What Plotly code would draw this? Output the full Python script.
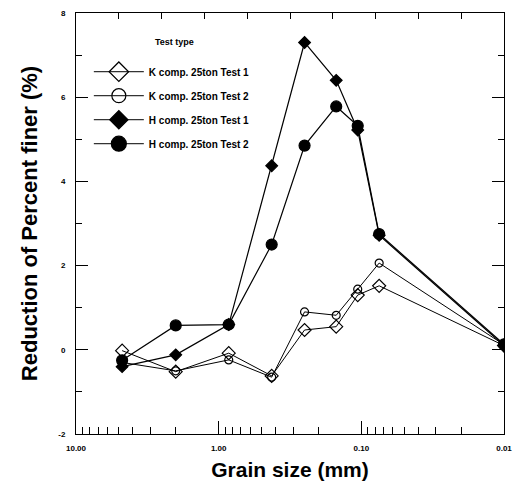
import plotly.graph_objects as go

# Data (grain size in mm, reduction of percent finer in %)
grain_size = [4.75, 2.0, 0.85, 0.425, 0.25, 0.15, 0.106, 0.075, 0.01]
k_test1 = [-0.02, -0.52, -0.08, -0.62, 0.47, 0.55, 1.30, 1.52, 0.10]
k_test2 = [-0.30, -0.50, -0.24, -0.65, 0.90, 0.82, 1.44, 2.06, 0.12]
h_test1 = [-0.40, -0.12, 0.60, 4.37, 7.30, 6.40, 5.22, 2.72, 0.10]
h_test2 = [-0.25, 0.58, 0.60, 2.50, 4.85, 5.78, 5.32, 2.75, 0.13]

names = ["K comp. 25ton Test 1", "K comp. 25ton Test 2",
         "H comp. 25ton Test 1", "H comp. 25ton Test 2"]
series = [k_test1, k_test2, h_test1, h_test2]
x_ticks = [10, 1, 0.1, 0.01]
x_ticktext = ["10.00", "1.00", "0.10", "0.01"]
y_ticks = [-2, 0, 2, 4, 6, 8]
y_ticktext = ["-2", "0", "2", "4", "6", "8"]

styles = [
    dict(symbol="diamond-open", size=10, lw=1.0),
    dict(symbol="circle-open", size=8, lw=1.0),
    dict(symbol="diamond", size=9, lw=1.2),
    dict(symbol="circle", size=11, lw=1.2),
]
legend_sizes = [15, 14, 14, 15]

minor_vals = [m * d for d in (1, 0.1, 0.01) for m in range(2, 10)]

fig = go.Figure()
for name, ys, st in zip(names, series, styles):
    fig.add_trace(go.Scatter(
        x=grain_size, y=ys, mode="lines+markers", showlegend=False,
        line=dict(color="black", width=st["lw"]),
        marker=dict(symbol=st["symbol"], size=st["size"], color="black",
                    line=dict(color="black", width=1.2)),
    ))
for i, (name, st) in enumerate(zip(names, styles)):
    fig.add_trace(go.Scatter(
        x=[None], y=[None], mode="lines+markers", name=name,
        legendgroup="g%d" % i,
        line=dict(color="black", width=1),
        marker=dict(symbol=st["symbol"], size=legend_sizes[i], color="black",
                    line=dict(color="black", width=1.2)),
    ))
# invisible trace for the top axis
fig.add_trace(go.Scatter(x=[None], y=[None], xaxis="x2", showlegend=False,
                         hoverinfo="skip"))

bold = dict(family="Liberation Sans", color="black", weight="bold")

fig.update_layout(
    width=521, height=486,
    margin=dict(l=76, r=15, t=9, b=52),
    plot_bgcolor="white", paper_bgcolor="white",
    font=dict(family="Liberation Sans", color="black"),
    xaxis=dict(
        type="log", range=[1, -2],
        tickvals=x_ticks, ticktext=x_ticktext,
        ticks="inside", ticklen=13, tickwidth=1, tickcolor="black",
        tickfont=dict(size=8, **bold), ticklabelstandoff=6,
        showline=True, linecolor="black", linewidth=1,
        showgrid=False, zeroline=False,
        minor=dict(tickvals=minor_vals, ticks="inside", ticklen=7,
                   tickcolor="black", showgrid=False),
        title=dict(text="Grain size (mm)", font=dict(size=21, **bold),
                   standoff=10),
    ),
    xaxis2=dict(
        overlaying="x", side="top", range=[0, 10], dtick=1,
        ticks="inside", ticklen=6, tickcolor="black",
        showticklabels=False, showline=True, linecolor="black",
        showgrid=False, zeroline=False,
    ),
    yaxis=dict(
        range=[-2, 8], tickvals=y_ticks, ticktext=y_ticktext,
        ticks="inside", ticklen=12, tickcolor="black",
        tickfont=dict(size=8, **bold), ticklabelstandoff=8,
        showline=True, linecolor="black", linewidth=1, mirror="ticks",
        showgrid=False, zeroline=False,
        minor=dict(dtick=1, tick0=0, ticks="inside", ticklen=6,
                   tickcolor="black", showgrid=False),
        title=dict(text="Reduction of Percent finer (%)",
                   font=dict(size=22, **bold), standoff=14),
    ),
    legend=dict(
        x=0.03, y=0.895, xanchor="left", yanchor="top",
        bgcolor="rgba(0,0,0,0)", font=dict(size=10, **bold),
        tracegroupgap=5, itemwidth=50,
    ),
    annotations=[dict(text="Test type", xref="paper", yref="paper",
                      x=0.179, y=0.932, xanchor="left", yanchor="middle",
                      showarrow=False, font=dict(size=9, **bold))],
)

fig.write_html("out.html")
